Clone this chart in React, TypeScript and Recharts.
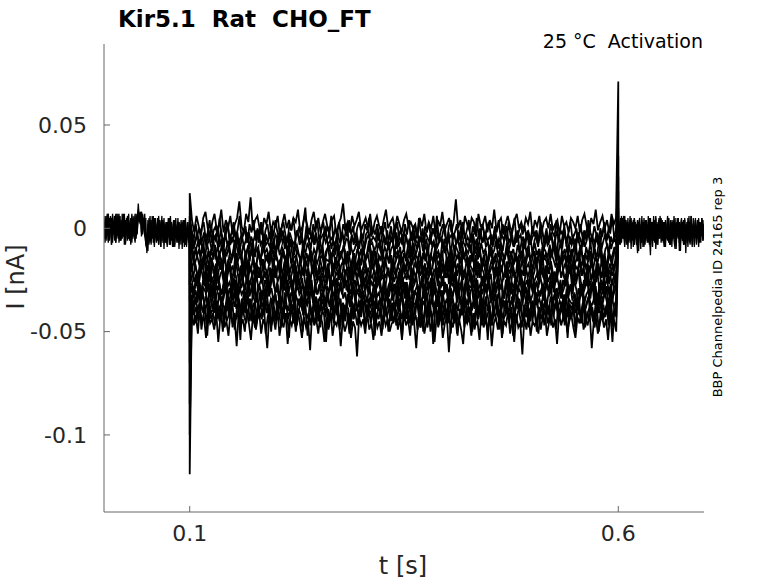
import { LineChart, Line, XAxis, YAxis } from "recharts"

// voltage step timing (s)
const stepOn = 0.1
const stepOff = 0.6
const recordEnd = 0.7

const xTicks = [0.1, 0.6]
const xTickLabels = ["0.1", "0.6"]
const yTicks = [0.05, 0, -0.05, -0.1]
const yTickLabels = ["0.05", "0", "-0.05", "-0.1"]

// all currents below in pA

// holding current before the step (0 - 0.1 s)
const preA = [3, -5, 6, -2, 7, -6, 2, 5, -7, 3, -4, 7, -5, 1, 6, -6, 4, -3, 7, -2, -7, 3, 6, -5, 2, -6, 5, 0, -4, 7, -5, 3, 12, 4, 8, -2, 7, 3, -4, 5, -12, 2, -8, 4, -5, 6, -7, 1, 5, -6, 2, -8, 4, -3, 6, -7, 1, -5, 3, -8, -1, 4, -6, 2, -9, 3, -5, 5, -7, -2, 3, -8, 2, -5, 4, -9, 0, -6, 3, -7, -2]
const preB = [-4, 6, -6, 2, -7, 5, 0, -5, 7, -2, 6, -7, 3, -4, 7, -6, 2, -5, 6, -8, 4, -1, -6, 7, -3, 5, -7, 2, 6, -5, 3, -2, 9, 6, 2, 8, -3, 5, 1, -8, -10, 4, -4, 6, -8, 2, -5, 5, -3, -7, 3, -6, 4, -9, 2, -4, 5, -7, 1, -9, 3, -5, 6, -6, -2, 4, -8, 1, -4, 5, -10, 2, -5, 3, -7, 4, -8, -2, 3, -6, -3]
const preC = [2, -7, 5, -3, 7, -5, 6, -8, 3, -1, -6, 5, -2, 7, -7, 3, -5, 7, -4, 2, -8, 5, -2, 4, -6, 1, 7, -5, 3, -7, 5, -3, 8, 3, 6, -4, 5, 2, 7, -6, -8, -11, 3, -6, 4, -4, 6, -9, 2, -5, 5, -8, 3, -2, -6, 4, -10, 2, -7, 3, -4, 5, -8, 0, -5, 4, -9, 2, -6, 3, -7, -2, 4, -8, 1, -4, 5, -9, 2, -5, 0]
const preD = [-5, 4, -2, 7, -6, 1, 5, -8, 6, -3, 2, -7, 7, -2, -5, 6, -6, 3, -4, 7, -7, 2, 5, -5, 1, -8, 6, -2, 3, -6, 7, 0, 7, 5, 2, 8, -2, 4, -3, -7, -9, -3, 5, -7, 2, -5, 4, -8, 3, 0, -6, 6, -3, -9, 4, -2, 2, -7, 3, -6, 5, -8, -2, 3, -5, -9, 4, -3, 1, -7, 3, -6, 2, -10, 4, -5, -2, -8, 3, -6, -4]

// after the step (0.6 - 0.7 s)
const postA = [4, -3, 5, -7, 2, -5, 6, -2, -8, 3, -6, 4, -4, 1, -9, 5, -5, 2, -7, 3, -2, -10, 4, -4, 5, -8, 1, -5, 6, -6, 2, -3, -9, 4, -2, 5, -7, 3, -5, 6, 0, -6, 3, -8, 2, -4, 5, -7, -2, 4, -9, 3, -5, 1, -8, 5, -3, 2, -11, 3, -6, 4, -2, -7, 3, -5, 6, -8, 1, -4, 5, -9, 2, -5, 4, -7, 1, -3, 5, -6, 2]
const postB = [-6, 2, -8, 4, -3, 6, -7, 1, 3, -10, 2, -5, 5, -6, 3, -8, 1, -4, 4, -11, 2, -6, 3, -2, -8, 4, -5, 2, -7, 5, -9, 0, 3, -6, 4, -10, 2, -4, 5, -5, -2, 4, -7, 3, -9, 1, -5, 5, -8, 2, -3, 4, -6, -10, 3, -2, 5, -7, 1, -5, 3, -8, 4, -12, 2, -6, 3, -3, 6, -8, 1, -5, 4, -7, 2, -9, 3, -4, 5, -6, -2]
const postC = [1, -8, 3, -5, 5, -2, -9, 4, -6, 2, -4, 6, -7, -2, 4, -8, 3, -5, -12, 2, 5, -4, -7, 3, -9, 1, 4, -6, 2, -8, 5, -3, -5, 6, -7, 3, -2, -8, 4, -4, 5, -6, 2, -9, 3, -5, 6, -2, -8, 4, -6, 1, -4, 5, -10, 2, -5, 3, -7, 4, -2, -8, 5, -5, 1, -9, 3, -4, 6, -6, 2, -8, 4, -5, -2, 5, -7, 3, -4, 4, -5]
const postD = [3, -6, -2, 6, -5, 2, -8, 4, -4, 5, -7, 1, -10, 3, -5, 5, -2, -8, 4, -6, 2, -4, 6, -9, 1, -5, 4, -7, 3, -2, -13, 3, -6, 4, -4, 6, -8, 2, -5, 5, -7, 1, 3, -9, 4, -4, -6, 5, -2, -8, 3, -5, 6, -7, 2, -4, 4, -11, 1, 5, -6, 3, -8, 2, -5, 5, -4, -7, 4, -9, 2, -3, 5, -8, 3, -5, 1, -7, 4, -4, 2]

// capacitive transients at step on / off, one per sweep (sweeps ordered by level)
const onsetPeak = [17, 6, 4, 3, 1, 0, -2, -6, -9, -12, -20, -27, -35, -55, -65, -85, -100, -119]
const offsetPeak = [71, 35, 25, 18, 10, 8, 6, 4, 3, 2, 1, 1, 0, -1, -1, -2, -2, -3]

// current during the step (0.1 - 0.6 s), one array per sweep
const sweep01 = [4, -2, 6, 1, -3, 5, 8, 0, -4, 3, 7, -1, 2, 9, -2, 4, 0, 6, -3, 2, 5, 13, 1, -2, 7, 3, 15, -1, 4, 6, 0, -3, 5, 2, 8, -2, 3, 1, 6, -4, 2, 7, 0, 4, -1, 5, 3, 9, -2, 1, 6, 2, -3, 4, 8, 0, 5, -2, 3, 7, 1, -1, 4, 6, -3, 2, 5, 12, 0, 3, -2, 6, 1, 4, 8, -1, 2, 5, 0, 7, -3, 3, 6, 1, -2, 4, 9, 0, 3, 5, -1, 6, 2, -2, 4, 7, 1, 3, 0, 2, -4, 5, 1, 7, -2, 3, 0, 6, -3, 4, 1, 8, -1, 2, 5, -2, 3, 14, 0, 4, -3, 6, 2, -1, 5, 3, -4, 7, 1, 2, 6, -2, 4, 0, 9, -1, 3, 5, -3, 2, 6, 1, -2, 4, 7, 0, 3, -1, 5, 2, 8, -3, 4, 1, 6, -2, 3, 5, 0, 7, -1, 2, 4, -3, 6, 1, 3, -2, 5, 3, 0, 6, -2, 4, 7, 1, -3, 5, 2, 9, -1, 3, 6, 0, 4, -2, 7, 2, 5]
const sweep02 = [-1, -6, 2, -4, -8, 0, 3, -5, -2, 4, -7, -1, 1, -4, 5, -3, -9, 0, 2, -6, -2, 3, -4, -1, 6, -5, -3, 1, -7, 2, -2, 4, -6, 0, -3, 3, -8, -1, 2, -5, 1, -4, 4, -2, -6, 0, 3, -3, -7, 2, -1, 5, -4, -2, 1, -6, 3, 10, -3, 0, -5, 2, -2, 4, -7, -1, 3, -4, 1, -3, 6, -5, 0, -2, 3, -6, 2, -1, -4, 4, -3, 1, -7, 0, 3, -2, -5, 2, -1, 5, -4, 0, -3, 2, -6, 1, -2, 3, -4, -5, 1, -7, -2, 3, -4, 0, -8, 2, -3, 4, -6, -1, 2, -5, 5, -3, -7, 1, -2, 3, -5, 0, -4, 6, -6, -1, 2, -3, -8, 1, 4, -4, -2, 2, -6, 0, 3, -5, -1, 4, -7, 1, -3, 5, -4, -2, 2, -6, 0, 3, -3, -9, 1, -2, 4, -5, 2, -1, -6, 3, -4, 0, 5, -7, -2, 2, -3, 1, -5, -2, -6, 1, -4, -1, -7, 3, -3, -5, 0, -8, 2, -2, -4, 4, -6, -1, -3, 1, -9, -2, 3, -5, -3, 0, -7, 2, -4, -1, -6, 4, -2, -5, 1, -3, -8, 0, -4, 3, -6, -1, -2, 5, -5, -3]
const sweep03 = [-4, -10, -6, -2, -9, -5, -12, -3, -8, -1, -7, -11, -4, -6, 0, -9, -5, -13, -2, -7, -10, -4, -6, -1, -8, -12, -5, -3, -9, -6, -2, -10, -4, -7, -14, -5, -1, -8, -6, -11, -3, -7, -9, -2, -6, -12, -4, -8, -5, -1, -10, -7, -3, -9, -6, -13, -4, -2, -8, -5, -11, -7, -3, -6, -10, -1, -8, -4, -9, -6, -12, -3, -7, -5, -2, -10, -6, -8, -4, -11, -7, -2, -9, -5, -6, -13, -3, -8, -4, -7, -10, -2, -6, -9, -5, -3, -8, -7, -11, -9, -3, -6, -12, -4, -8, -1, -10, -5, -7, -13, -2, -9, -6, -4, -11, -3, -8, -5, -14, -2, -7, -10, -4, -6, 0, -9, -5, -12, -3, -8, -6, -11, -1, -7, -4, -10, -5, -9, -2, -13, -6, -3, -8, -5, -11, -1, -7, -9, -4, -6, -12, -3, -8, -5, -10, -2, -7, -4, -9, -6, -13, -3, -8, -1, -10, -5, -7, -11, -4, -5, -11, -8, -3, -9, -6, -1, -12, -7, -4, -10, -2, -8, -5, -13, -6, -3, -9, 0, -7, -11, -4, -8, -6, -2, -10, -5, -14, -3, -7, -9, -1, -6, -12, -4, -8, -5, -10, -2, -7, -11, -3, -9, -6, 1, -8, -4, -12, -5, -7, -2, -10, -6, -3, -9, -13, -4, -7, -5, -8]
const sweep04 = [-8, -14, -10, -6, -13, -9, -16, -7, -12, -11, -5, -15, -9, -13, -8, -17, -10, -6, -12, -14, -9, -4, -11, -15, -8, -12, -10, -16, -7, -13, -11, -9, -18, -6, -12, -10, -14, -8, -11, -15, -7, -13, -9, -12, -16, -10, -5, -14, -11, -8, -13, -17, -9, -12, -7, -11, -15, -10, -13, -6, -12, -9, -16, -11, -8, -14, -10, -12, -7, -15, -11, -9, -13, -17, -8, -12, -10, -6, -14, -11, -9, -16, -12, -8, -13, -10, -15, -7, -11, -14, -9, -12, -16, -10, -8, -13, -11, -15, -12, -10, -15, -7, -12, -9, -14, -11, -6, -16, -13, -8, -12, -18, -10, -7, -13, -11, -15, -5, -12, -9, -14, -10, -17, -8, -11, -13, -6, -15, -10, -12, -8, -16, -11, -9, -14, -7, -12, -10, -19, -8, -13, -11, -6, -14, -9, -12, -15, -7, -11, -13, -10, -16, -8, -12, -14, -5, -11, -9, -15, -12, -7, -13, -10, -17, -9, -11, -14, -8, -12, -9, -15, -12, -7, -13, -10, -17, -8, -14, -11, -5, -16, -10, -12, -19, -9, -13, -7, -15, -11, -14, -6, -12, -16, -10, -8, -13, -18, -11, -9]
const sweep05 = [-12, -18, -14, -10, -17, -13, -20, -11, -16, -15, -9, -19, -13, -17, -12, -21, -14, -16, -10, -18, -15, -13, -22, -11, -17, -14, -9, -19, -16, -12, -15, -20, -13, -17, -11, -18, -14, -16, -23, -12, -15, -19, -10, -17, -14, -13, -20, -16, -11, -18, -15, -12, -21, -14, -17, -13, -10, -19, -15, -16, -12, -20, -14, -18, -11, -15, -17, -13, -22, -16, -12, -19, -14, -10, -17, -15, -13, -20, -16, -11, -18, -14, -15, -21, -12, -17, -13, -19, -16, -11, -18, -14, -20, -15, -12, -17, -13, -19, -16, -17, -11, -14, -20, -13, -16, -9, -18, -15, -12, -21, -14, -17, -10, -19, -15, -13, -22, -11, -16, -14, -18, -12, -20, -15, -9, -17, -13, -19, -16, -11, -18, -14, -23, -12, -16, -15, -10, -19, -13, -17, -14, -21, -11, -16, -18, -12, -15, -20, -13, -17, -10, -18, -14, -16, -22, -12, -15, -19, -11, -17, -14, -13, -20, -16, -10, -18, -15, -12, -19, -13, -19, -16, -11, -21, -14, -17, -10, -18, -15, -23, -12, -16, -19, -14]
const sweep06 = [-21, -15, -19, -24, -17, -20, -13, -22, -18, -26, -16, -19, -23, -14, -20, -17, -25, -19, -15, -21, -18, -24, -12, -20, -22, -17, -19, -27, -16, -21, -14, -23, -18, -20, -25, -15, -19, -22, -17, -13, -21, -24, -18, -16, -20, -26, -19, -14, -22, -17, -21, -18, -25, -15, -20, -23, -16, -19, -12, -22, -18, -24, -20, -15, -21, -17, -26, -19, -14, -23, -18, -20, -16, -24, -21, -13, -19, -22, -17, -25, -18, -20, -15, -23, -19, -16, -21, -27, -17, -20, -14, -22, -18, -24, -19, -16, -21, -23, -18, -16, -22, -19, -13, -24, -18, -21, -15, -20, -26, -17, -19, -14, -23, -20, -18, -25, -16, -21, -19, -12, -22, -18, -24, -17, -20, -15, -27, -19, -21, -16, -23, -18, -14, -22, -20, -25, -17, -19, -21, -13, -24, -18, -20, -16, -22, -26, -19, -15, -21, -18, -23, -17, -20, -14, -24, -19, -22, -16, -21, -28, -18, -20, -15, -23, -19, -17, -22, -20, -16, -17, -23, -20, -14, -25, -18, -21, -16, -22, -27, -19, -15, -24, -20, -17, -22, -13, -21, -26, -18, -20, -16, -23, -19, -28, -17, -21, -15, -24, -20, -18, -22, -14, -25, -19, -21, -17, -23, -20, -16]
const sweep07 = [-20, -26, -22, -28, -18, -24, -21, -30, -19, -25, -23, -17, -27, -22, -20, -29, -24, -18, -26, -21, -23, -31, -19, -25, -22, -16, -28, -24, -20, -26, -23, -19, -27, -21, -25, -32, -20, -24, -18, -26, -22, -28, -21, -17, -25, -23, -29, -20, -24, -26, -19, -22, -30, -21, -25, -18, -27, -23, -20, -28, -24, -22, -17, -26, -21, -25, -29, -19, -23, -27, -20, -24, -22, -31, -18, -25, -21, -26, -23, -19, -28, -22, -24, -20, -27, -17, -25, -23, -29, -21, -24, -19, -26, -22, -28, -20, -25, -23, -21, -25, -19, -27, -22, -20, -29, -24, -17, -26, -23, -21, -30, -18, -25, -22, -28, -20, -24, -16, -27, -23, -21, -31, -19, -25, -22, -26, -18, -24, -29, -21, -23, -17, -28, -25, -20, -26, -22, -32, -19, -24, -21, -27, -23, -18, -25, -29, -20, -22, -26, -17, -24, -28, -21, -23, -19, -30, -25, -22, -27, -20, -24, -18, -26, -23, -29, -21, -25, -19, -22, -21, -27, -24, -18, -29, -22, -25, -20, -26, -31, -23, -19, -28, -24, -21, -26, -17, -25, -30, -22, -24, -20, -27, -23, -25]
const sweep08 = [-24, -31, -26, -22, -29, -33, -25, -28, -21, -30, -27, -24, -34, -26, -23, -29, -32, -25, -20, -28, -26, -31, -24, -27, -35, -22, -29, -26, -30, -23, -28, -25, -33, -27, -21, -30, -26, -24, -32, -28, -25, -29, -22, -27, -31, -26, -36, -24, -28, -23, -30, -27, -25, -33, -21, -29, -26, -28, -24, -31, -27, -22, -30, -25, -34, -28, -26, -23, -29, -32, -25, -27, -20, -30, -26, -28, -24, -33, -27, -22, -29, -25, -31, -28, -23, -26, -35, -24, -29, -27, -21, -30, -26, -32, -25, -28, -23, -29, -27, -26, -32, -24, -29, -35, -27, -22, -30, -28, -25, -33, -21, -28, -31, -26, -36, -24, -29, -27, -23, -32, -28, -25, -34, -22, -30, -27, -29, -24, -31, -38, -26, -28, -23, -30, -27, -33, -25, -21, -29, -32, -26, -28, -24, -35, -27, -30, -22, -28, -26, -31, -25, -33, -29, -23, -27, -30, -24, -36, -28, -26, -31, -22, -29, -27, -34, -25, -28, -30, -26, -29, -24, -31, -26, -22, -33, -28, -25, -30, -27, -20, -32, -26, -29, -23, -28, -35, -25, -30, -27, -21, -31, -26, -24, -29, -34, -25, -28, -22, -30, -27, -32, -24, -26, -19, -29, -31, -25, -28, -23, -33, -27, -30, -26, -21, -29, -25, -32, -28, -24, -31, -27, -36, -23, -28]
const sweep09 = [-28, -34, -30, -36, -26, -33, -29, -31, -38, -27, -32, -25, -35, -30, -28, -37, -31, -26, -33, -29, -34, -24, -31, -36, -28, -32, -30, -39, -27, -33, -29, -25, -35, -31, -28, -34, -30, -37, -26, -32, -29, -35, -31, -27, -33, -38, -28, -30, -25, -34, -31, -36, -29, -27, -32, -30, -40, -28, -33, -26, -31, -35, -29, -32, -27, -34, -30, -37, -28, -31, -25, -33, -30, -36, -29, -27, -34, -31, -38, -28, -32, -26, -35, -30, -33, -29, -24, -31, -36, -28, -34, -30, -27, -33, -31, -37, -29, -32, -30, -33, -27, -35, -30, -28, -38, -31, -25, -34, -29, -32, -26, -37, -30, -33, -28, -40, -31, -27, -35, -29, -24, -33, -30, -36, -28, -32, -34, -26, -31, -39, -29, -33, -27, -35, -30, -28, -37, -32, -25, -34, -30, -29, -36, -27, -33, -31, -41, -28, -32, -26, -35, -30, -34, -29, -27, -38, -31, -33, -25, -36, -30, -32, -28, -35, -29, -31, -37, -27, -33, -29, -35, -32, -27, -37, -30, -33, -28, -34, -39, -31, -26, -36, -32, -29, -34, -25, -33, -38, -30, -32, -28, -35, -31, -40, -29, -33, -27, -36, -32, -30, -34, -26, -37, -31, -33, -29, -35, -32, -28, -38, -30, -34, -31, -27]
const sweep10 = [-32, -38, -34, -29, -37, -41, -33, -36, -30, -39, -35, -43, -31, -37, -34, -28, -40, -36, -33, -38, -31, -35, -42, -30, -37, -34, -39, -32, -36, -44, -31, -38, -35, -29, -40, -34, -37, -32, -41, -36, -33, -39, -30, -35, -38, -46, -32, -36, -34, -40, -31, -37, -35, -28, -39, -33, -42, -36, -31, -38, -34, -37, -30, -41, -35, -33, -39, -36, -45, -32, -37, -34, -29, -40, -35, -38, -31, -36, -43, -33, -37, -30, -39, -35, -34, -41, -32, -38, -36, -31, -40, -34, -37, -33, -42, -35, -30, -38, -36, -37, -31, -40, -34, -32, -43, -36, -29, -38, -35, -33, -41, -30, -37, -34, -46, -32, -36, -39, -28, -35, -42, -33, -37, -31, -40, -36, -34, -44, -30, -38, -35, -32, -39, -47, -33, -36, -31, -41, -35, -37, -29, -38, -34, -43, -32, -36, -40, -30, -35, -38, -33, -45, -31, -37, -34, -39, -28, -36, -42, -33, -37, -31, -40, -35, -38, -32, -44, -34, -36, -37, -32, -39, -34, -30, -41, -36, -33, -38, -35, -28, -40, -34, -37, -31, -36, -44, -33, -38, -35]
const sweep11 = [-36, -42, -38, -45, -34, -40, -37, -47, -35, -41, -39, -33, -44, -38, -36, -46, -40, -34, -42, -37, -49, -39, -35, -43, -38, -41, -32, -45, -39, -36, -48, -40, -37, -43, -35, -41, -38, -50, -36, -42, -39, -34, -46, -40, -37, -44, -38, -41, -33, -47, -39, -36, -42, -38, -52, -35, -43, -40, -37, -45, -39, -34, -41, -38, -48, -36, -42, -40, -35, -46, -38, -43, -37, -39, -51, -36, -41, -38, -44, -34, -40, -47, -37, -42, -39, -35, -45, -38, -41, -49, -36, -43, -39, -37, -46, -40, -42, -38, -44, -38, -44, -36, -41, -47, -39, -35, -43, -40, -50, -37, -42, -34, -45, -39, -41, -48, -36, -43, -38, -46, -33, -40, -44, -37, -52, -39, -42, -35, -46, -40, -38, -44, -49, -36, -41, -39, -34, -45, -42, -37, -47, -40, -36, -43, -39, -51, -35, -41, -44, -38, -46, -40, -33, -42, -48, -37, -43, -39, -45, -36, -41, -50, -38, -44, -40, -35, -46, -42, -39, -41, -36, -44, -39, -35, -47, -40, -37, -43, -38, -50, -36, -42, -39, -33, -45, -40, -37, -43, -48, -38, -41, -35, -44, -39, -42, -36, -46, -40, -38]
const sweep12 = [-40, -47, -42, -51, -38, -45, -43, -53, -39, -46, -44, -49, -41, -55, -43, -38, -48, -45, -52, -40, -46, -43, -57, -41, -47, -44, -50, -39, -46, -54, -42, -48, -45, -40, -51, -44, -47, -58, -42, -46, -43, -49, -39, -52, -45, -48, -41, -56, -44, -47, -42, -50, -40, -46, -53, -43, -48, -45, -59, -41, -47, -44, -51, -42, -46, -55, -43, -49, -40, -52, -45, -47, -42, -57, -44, -50, -46, -41, -53, -45, -48, -62, -43, -47, -44, -51, -41, -49, -46, -54, -43, -48, -45, -52, -42, -47, -44, -50, -46, -45, -39, -49, -43, -54, -41, -47, -44, -52, -40, -46, -58, -43, -48, -42, -51, -45, -39, -50, -44, -55, -42, -47, -41, -53, -46, -43, -60, -45, -48, -40, -51, -44, -49, -56, -42, -46, -43, -52, -41, -47, -45, -54, -39, -48, -44, -50, -42, -57, -46, -43, -49, -41, -53, -45, -47, -40, -51, -44, -55, -42, -48, -46, -61, -43, -49, -41, -52, -45, -47, -45, -40, -49, -43, -39, -52, -46, -42, -48, -44, -56, -41, -47, -43, -38, -50, -45, -42, -48, -53, -43, -46, -40, -49, -44, -47, -41, -58, -45, -43, -51, -46, -42, -48, -44, -54, -41, -47, -45, -50]
const sweep13 = [-3, -8, -4, 0, -7, -2, -9, -6, 1, -5, -3, -10, -1, -6, -4, 2, -8, -5, -7, -2, -11, -4, 0, -6, -3, -9, -5, -1, -7, 3, -4, -8, -6, -2, -10, -3, -5, 0, -7, -4, -12, -2, -6, -8, -1, -5, -3, -9, 1, -6, -4, -7, -2, -10, -5, -3, 0, -8, -6, -4, -11, -1, -7, -3, -5, 2, -9, -4, -6, -2, -8, -5, -13, -3, -1, -7, -4, -6, 0, -9, -2, -5, -8, -3, -6, 1, -10, -4, -7, -2, -5, -9, -3, 0, -6, -8, -4, -11, -2, -5, -7, -1, -3, -9, -6, -4, 2, -8, -5, -3, -10, -7, -2, -5, -1, -6, -9, -4, -3, -12, -5, 0, -7, -2, -6, -4, -8, -1, -5, -10, -3, -6, 1, -7, -4, -9, -2, -5, -3, -11, -6, -1, -8, -4, -2, -7, -5, 0, -9, -3, -6, -4, -10, -2, -5, -8, -1, -6, -3, -7, -4, -12, -2, -5, -9, -3, 0, -6, -4, -7, -2, -9, -4, 1, -6, -3, -10, -5, -1]
const sweep14 = [-11, -16, -9, -14, -18, -12, -7, -15, -13, -20, -10, -14, -8, -17, -12, -15, -21, -11, -13, -9, -16, -14, -6, -18, -12, -10, -15, -19, -13, -8, -14, -11, -17, -22, -10, -15, -13, -9, -16, -12, -18, -7, -14, -11, -15, -20, -13, -10, -16, -12, -8, -17, -14, -19, -11, -13, -15, -9, -18, -12, -16, -10, -14, -21, -12, -7, -15, -13, -17, -11, -9, -16, -14, -12, -19, -10, -15, -13, -8, -17, -11, -14, -20, -12, -16, -10, -13, -18, -9, -15, -12, -6, -16, -14, -11, -19, -13, -15, -10, -17, -12, -8, -14, -22, -11, -15, -13, -9, -17, -12, -16, -10, -14, -18, -7, -13, -15, -11, -20, -12, -16, -9, -14, -13, -17, -10, -15, -12, -19, -11, -8, -16, -14, -13, -21, -10, -15, -12, -17, -9, -14, -11, -18, -13, -16, -7, -12, -15, -10, -19, -14, -11, -16, -13, -9, -17, -12, -15, -20, -10, -14, -13, -8, -16, -11, -18, -12, -15, -13, -15, -10, -17, -12, -8, -19, -14, -11, -16, -13, -21, -9, -15, -12, -18, -10, -14, -7, -16, -13, -20, -11, -15, -12, -9, -17, -14, -22, -10, -13, -16, -8, -18, -12, -15, -11, -19, -13, -10, -17, -14, -7, -16, -12, -20, -11, -15, -13, -9, -18]
const sweep15 = [-19, -24, -17, -22, -27, -20, -15, -23, -21, -18, -26, -14, -22, -19, -25, -20, -16, -23, -28, -19, -21, -17, -24, -22, -13, -20, -26, -18, -23, -21, -16, -25, -19, -22, -29, -17, -20, -24, -18, -15, -23, -21, -26, -19, -22, -14, -24, -20, -18, -27, -21, -16, -23, -19, -25, -22, -17, -20, -30, -18, -24, -21, -15, -23, -19, -26, -20, -22, -16, -25, -18, -21, -24, -14, -22, -19, -27, -20, -17, -23, -21, -25, -18, -16, -22, -20, -28, -19, -23, -15, -21, -24, -18, -26, -20, -17, -22, -19, -25, -13, -21, -23, -18, -27, -20, -16, -24, -22, -19, -26, -15, -21, -23, -18, -20, -29, -17, -22, -25, -19, -16, -23, -21, -24, -18, -20, -14, -26, -22, -19, -23, -17, -25, -20, -21, -28, -16, -22, -19, -24, -18, -21, -15, -23, -26, -20, -17, -22, -19, -25, -21, -14, -23, -20, -27, -18, -22, -16, -24, -19, -21, -26, -17, -23, -20, -18, -25, -22, -19, -23, -18, -25, -20, -16, -27, -22, -19, -24, -21, -14, -26, -20, -23, -17, -22, -29, -19, -24, -21, -15, -25, -20, -18, -23, -28, -19, -22, -16, -24, -21, -26, -18, -20, -13, -23, -25, -19, -22, -17, -27, -21, -24, -20, -15, -23, -19, -26, -22, -18, -25, -21, -30, -17, -23, -20, -24, -16, -22, -19, -27, -21, -18, -25, -20]
const sweep16 = [-27, -33, -25, -30, -35, -28, -23, -31, -29, -26, -34, -22, -30, -27, -32, -28, -24, -31, -37, -26, -29, -25, -33, -30, -21, -28, -34, -26, -31, -29, -24, -36, -27, -30, -32, -25, -28, -33, -26, -23, -31, -29, -35, -27, -30, -22, -32, -28, -26, -38, -29, -24, -31, -27, -34, -30, -25, -28, -36, -26, -32, -29, -23, -31, -27, -35, -28, -30, -24, -33, -26, -29, -32, -22, -30, -27, -37, -28, -25, -31, -29, -34, -26, -24, -30, -28, -36, -27, -31, -23, -29, -33, -26, -35, -28, -25, -30, -27, -34, -21, -29, -31, -26, -39, -28, -24, -32, -30, -27, -35, -23, -29, -31, -26, -28, -37, -25, -30, -33, -27, -24, -31, -29, -34, -26, -28, -22, -36, -30, -27, -31, -25, -33, -28, -29, -38, -24, -30, -27, -32, -26, -29, -23, -31, -35, -28, -25, -30, -27, -34, -29, -22, -31, -28, -36, -26, -30, -24, -32, -27, -29, -35, -25, -31, -28, -26, -33, -30, -27, -31, -26, -33, -28, -24, -35, -30, -27, -32, -29, -22, -34, -28, -31, -25, -30, -37, -27, -32, -29, -23, -33, -28, -26, -31, -36, -27, -30, -24, -32, -29, -34, -26, -28, -30]
const sweep17 = [-35, -40, -33, -38, -44, -36, -31, -39, -37, -42, -34, -30, -41, -36, -38, -45, -33, -37, -40, -32, -43, -35, -38, -29, -39, -36, -47, -34, -37, -41, -31, -38, -35, -43, -36, -33, -40, -37, -30, -42, -35, -39, -46, -34, -36, -32, -41, -38, -35, -44, -31, -37, -40, -33, -39, -36, -48, -34, -38, -32, -42, -35, -37, -30, -41, -39, -34, -45, -36, -33, -40, -37, -43, -31, -38, -35, -39, -29, -42, -36, -34, -47, -37, -40, -32, -38, -35, -44, -33, -39, -36, -41, -30, -37, -43, -34, -38, -36, -46, -32, -40, -35, -37, -31, -42, -38, -34, -45, -36, -39, -33, -41, -37, -29, -40, -35, -44, -38, -32, -36, -42, -34, -39, -48, -35, -37, -31, -43, -38, -33, -40, -36, -45, -34, -30, -39, -37, -42, -35, -38, -32, -46, -36, -40, -33, -37, -41, -34, -44, -31, -38, -36, -39, -30, -43, -35, -37, -47, -33, -40, -36, -34, -42, -38, -32, -45, -37, -35, -39, -35, -41, -38, -33, -43, -36, -39, -34, -40, -45, -37, -32, -42, -38, -35, -40, -31, -39, -44, -36, -38, -34, -41, -37, -47, -35, -39, -33, -42, -38, -36, -40, -32, -43, -37, -39, -35, -41, -38, -34, -46, -36, -40, -37, -33, -42, -38, -44, -35, -39, -31, -41, -37, -43, -36, -38, -34, -45, -39, -37]
const sweep18 = [-43, -38, -46, -40, -36, -49, -42, -39, -52, -37, -44, -41, -47, -35, -43, -40, -50, -38, -45, -42, -36, -48, -41, -44, -39, -54, -37, -43, -46, -40, -34, -45, -42, -49, -38, -41, -44, -36, -51, -43, -39, -47, -40, -45, -35, -42, -48, -38, -44, -41, -53, -37, -43, -40, -46, -39, -42, -50, -36, -44, -41, -47, -38, -45, -43, -34, -48, -40, -42, -55, -39, -44, -41, -46, -37, -43, -49, -40, -45, -38, -42, -51, -36, -44, -41, -47, -39, -43, -35, -48, -42, -40, -46, -38, -52, -41, -44, -37, -45, -43, -39, -50, -40, -42, -36, -47, -44, -41, -53, -38, -43, -40, -46, -35, -45, -42, -49, -39, -41, -44, -37, -48, -43, -40, -56, -38, -42, -45, -36, -47, -41, -44, -39, -51, -37, -43, -40, -46, -42, -34, -48, -41, -45, -38, -50, -43, -39, -44, -36, -47, -42, -40, -54, -38, -45, -41, -43, -37, -49, -40, -44, -42, -35, -46, -39, -52, -41, -43, -38, -39, -45, -42, -37, -48, -40, -43, -38, -46, -51, -41, -36, -47, -42, -39, -44, -35, -43, -49, -40, -42, -38, -45, -41, -53, -39, -43, -37, -46, -42, -40, -44, -36, -48, -41, -43, -39, -45, -42, -38, -50, -40, -44, -41, -37, -47, -42, -55, -39, -43]

const preTraces = [preA, preB, preC, preD]
const postTraces = [postA, postB, postC, postD]
// ordered from the least to the most inward current
const sweeps = [
  sweep01, sweep02, sweep13, sweep03, sweep04, sweep14, sweep05, sweep06, sweep15,
  sweep07, sweep08, sweep16, sweep09, sweep10, sweep17, sweep11, sweep18, sweep12,
]

type Pt = { t: number; i: number }
const toNA = (pA: number) => pA / 1000

// samples are evenly spaced over [t0, t1]
function spread(values: number[], t0: number, t1: number): Pt[] {
  const dt = (t1 - t0) / (values.length - 1)
  return values.map((v, j) => ({ t: t0 + j * dt, i: toNA(v) }))
}

const preData = preTraces.map((v) => spread(v, 0, stepOn))
const postData = postTraces.map((v) => spread(v, stepOff, recordEnd))
const sweepData: Pt[][] = sweeps.map((v, k) => {
  const dt = (stepOff - stepOn) / (v.length + 1)
  const pre = preTraces[k % preTraces.length]
  const post = postTraces[k % postTraces.length]
  return [
    { t: stepOn, i: toNA(pre[pre.length - 1]) },
    { t: stepOn, i: toNA(onsetPeak[k]) },
    ...v.map((x, j) => ({ t: stepOn + (j + 1) * dt, i: toNA(x) })),
    { t: stepOff, i: toNA(offsetPeak[k]) },
    { t: stepOff, i: toNA(post[0]) },
  ]
})

const FONT = "DejaVu Sans"
const AXIS = "#666666"
const TEXT = "#262626"

function YTick(props: any) {
  const { x, y, payload } = props
  const idx = yTicks.indexOf(payload.value)
  return (
    <g>
      <line x1={x + 17} x2={x + 23} y1={y} y2={y} stroke={AXIS} />
      <text x={x} y={y} dy="0.355em" textAnchor="end" fontSize={22} fill={TEXT} fontFamily={FONT}>
        {idx >= 0 ? yTickLabels[idx] : String(payload.value)}
      </text>
    </g>
  )
}

function XTick(props: any) {
  const { x, y, payload } = props
  const idx = xTicks.indexOf(payload.value)
  return (
    <g>
      <line x1={x} x2={x} y1={y - 13} y2={y - 19} stroke={AXIS} />
      <text x={x} y={y} dy="0.71em" textAnchor="middle" fontSize={22} fill={TEXT} fontFamily={FONT}>
        {idx >= 0 ? xTickLabels[idx] : String(payload.value)}
      </text>
    </g>
  )
}

const traceProps = {
  dataKey: "i",
  type: "linear" as const,
  stroke: "#000",
  dot: false,
  isAnimationActive: false,
}

export default function App() {
  return (
    <div style={{ position: "absolute", left: 0, top: 0, width: 778, height: 583, background: "#fff" }}>
      <LineChart width={778} height={583} margin={{ top: 44, right: 74, bottom: 0, left: 0 }}>
        <XAxis
          type="number"
          dataKey="t"
          domain={[0, recordEnd]}
          ticks={xTicks}
          interval={0}
          height={71}
          tickLine={false}
          tickSize={0}
          tickMargin={13}
          stroke={AXIS}
          tick={<XTick />}
          allowDataOverflow
        />
        <YAxis
          type="number"
          dataKey="i"
          domain={[-0.1373, 0.0892]}
          ticks={yTicks}
          interval={0}
          width={104}
          tickLine={false}
          tickSize={0}
          tickMargin={17}
          stroke={AXIS}
          tick={<YTick />}
          allowDataOverflow
        />
        {preData.map((d, k) => (
          <Line key={"pre" + k} data={d} {...traceProps} strokeWidth={1.3} isAnimationActive={false} />
        ))}
        {sweepData.map((d, k) => (
          <Line key={"sw" + k} data={d} {...traceProps} strokeWidth={1.8} isAnimationActive={false} />
        ))}
        {postData.map((d, k) => (
          <Line key={"post" + k} data={d} {...traceProps} strokeWidth={1.3} isAnimationActive={false} />
        ))}
      </LineChart>
      <svg width={778} height={583} style={{ position: "absolute", left: 0, top: 0, pointerEvents: "none" }}>
        <text x={118} y={27} fontSize={23} fontWeight="bold" fill="#000" fontFamily={FONT} style={{ whiteSpace: "pre" }}>
          Kir5.1  Rat  CHO_FT
        </text>
        <text x={703} y={48} textAnchor="end" fontSize={19} fill="#000" fontFamily={FONT} style={{ whiteSpace: "pre" }}>
          25 °C  Activation
        </text>
        <text x={24} y={277} textAnchor="middle" fontSize={24} fill={TEXT} fontFamily={FONT} transform="rotate(-90 24 277)">
          I [nA]
        </text>
        <text x={403} y={574} textAnchor="middle" fontSize={24} fill={TEXT} fontFamily={FONT}>
          t [s]
        </text>
        <text x={722} y={287} textAnchor="middle" fontSize={13} fill="#000" fontFamily={FONT} transform="rotate(-90 722 287)">
          BBP Channelpedia ID 24165 rep 3
        </text>
      </svg>
    </div>
  )
}
